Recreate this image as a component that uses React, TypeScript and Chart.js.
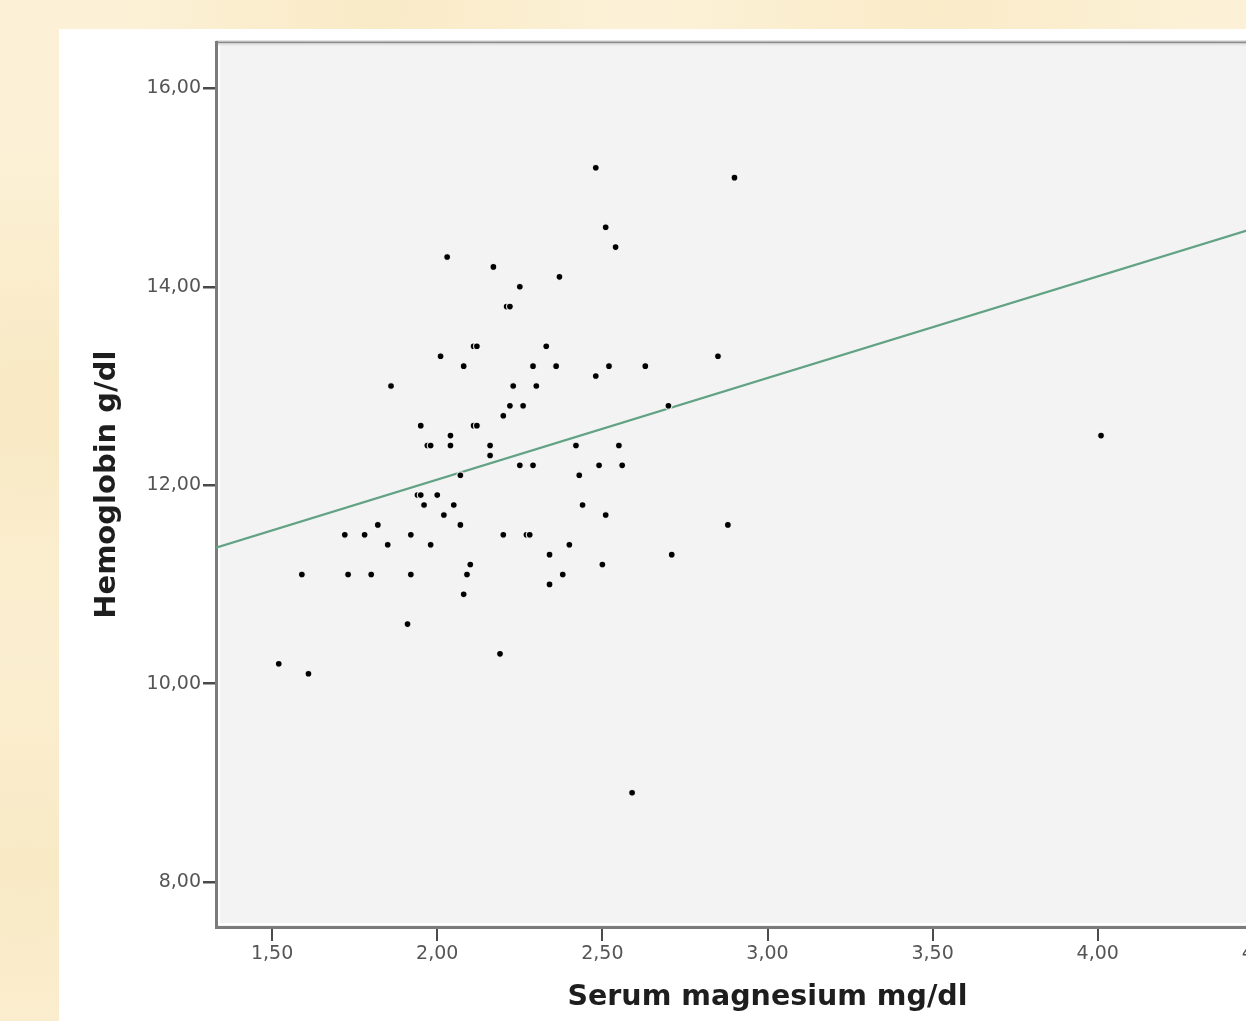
import React, { useEffect, useRef } from "react";
import { Chart, registerables } from "chart.js";

Chart.register(...registerables);

// Serum magnesium (mg/dl) for each patient
const magnesium = [
  2.48, 2.90, 2.51, 2.54, 2.03, 2.17, 2.37, 2.25, 2.21, 2.22,
  2.85, 2.01, 2.11, 2.12, 2.33, 2.08, 2.29, 2.36, 2.52, 2.63,
  2.48, 1.86, 2.23, 2.30, 2.22, 2.26, 2.20, 2.70, 1.95, 2.11,
  2.12, 2.04, 1.97, 1.98, 2.04, 2.16, 2.16, 2.42, 2.55, 2.25,
  2.29, 2.49, 2.56, 2.07, 2.43, 4.01, 1.94, 1.95, 2.00, 1.96,
  2.05, 2.44, 2.02, 2.51, 2.07, 1.82, 2.88, 1.72, 1.78, 1.92,
  2.20, 2.27, 2.28, 1.85, 1.98, 2.40, 2.34, 2.71, 2.10, 2.50,
  1.59, 1.73, 1.80, 1.92, 2.09, 2.38, 2.34, 2.08, 1.91, 2.19,
  1.52, 1.61, 2.59,
];

// Hemoglobin (g/dl) for each patient
const hemoglobin = [
  15.2, 15.1, 14.6, 14.4, 14.3, 14.2, 14.1, 14.0, 13.8, 13.8,
  13.3, 13.3, 13.4, 13.4, 13.4, 13.2, 13.2, 13.2, 13.2, 13.2,
  13.1, 13.0, 13.0, 13.0, 12.8, 12.8, 12.7, 12.8, 12.6, 12.6,
  12.6, 12.5, 12.4, 12.4, 12.4, 12.4, 12.3, 12.4, 12.4, 12.2,
  12.2, 12.2, 12.2, 12.1, 12.1, 12.5, 11.9, 11.9, 11.9, 11.8,
  11.8, 11.8, 11.7, 11.7, 11.6, 11.6, 11.6, 11.5, 11.5, 11.5,
  11.5, 11.5, 11.5, 11.4, 11.4, 11.4, 11.3, 11.3, 11.2, 11.2,
  11.1, 11.1, 11.1, 11.1, 11.1, 11.1, 11.0, 10.9, 10.6, 10.3,
  10.2, 10.1, 8.9,
];

// Linear fit line end points
const fitX = [1.33, 4.67];
const fitY = [11.37, 14.79];

const xTicks = [1.5, 2.0, 2.5, 3.0, 3.5, 4.0, 4.5];
const yTicks = [8, 10, 12, 14, 16];

const xRange = [1.33, 4.67];
const yRange = [7.547, 16.463];

const xTitle = "Serum magnesium mg/dl";
const yTitle = "Hemoglobin g/dl";

const fmt = (v: number) => v.toFixed(2).replace(".", ",");

const framePlugin = {
  id: "spssFrame",
  beforeDraw(chart: any) {
    const { ctx, chartArea } = chart;
    const { left, top, right, bottom } = chartArea;
    ctx.save();
    ctx.fillStyle = "#f3f3f3";
    ctx.fillRect(left, top, right - left, bottom - top);
    ctx.strokeStyle = "#ffffff";
    ctx.lineWidth = 2;
    ctx.beginPath();
    ctx.moveTo(left + 3, top);
    ctx.lineTo(left + 3, bottom - 3);
    ctx.lineTo(right, bottom - 3);
    ctx.stroke();
    ctx.strokeStyle = "#d2d2d2";
    ctx.lineWidth = 1;
    ctx.beginPath();
    ctx.moveTo(left, top - 1.5);
    ctx.lineTo(right, top - 1.5);
    ctx.stroke();
    ctx.strokeStyle = "#8a8a8a";
    ctx.lineWidth = 2;
    ctx.beginPath();
    ctx.moveTo(left, top);
    ctx.lineTo(right, top);
    ctx.stroke();
    ctx.strokeStyle = "#e4e4e4";
    ctx.lineWidth = 2;
    ctx.beginPath();
    ctx.moveTo(left, top + 2);
    ctx.lineTo(right, top + 2);
    ctx.stroke();
    ctx.restore();
  },
  afterDraw(chart: any) {
    const { ctx, chartArea } = chart;
    const { left, top, right, bottom } = chartArea;
    ctx.save();
    ctx.fillStyle = "#1e1e1e";
    ctx.textAlign = "center";
    ctx.textBaseline = "middle";
    ctx.font = 'bold 28.5px "DejaVu Sans"';
    ctx.fillText(xTitle, (left + right) / 2, bottom + 71);
    ctx.font = 'bold 29px "DejaVu Sans"';
    ctx.translate(48, (top + bottom) / 2);
    ctx.rotate(-Math.PI / 2);
    ctx.fillText(yTitle, 0, 0);
    ctx.restore();
  },
};

export default function App() {
  const canvasRef = useRef<HTMLCanvasElement | null>(null);

  useEffect(() => {
    const canvas = canvasRef.current;
    if (!canvas) return;
    const points = magnesium.map((x, i) => ({ x, y: hemoglobin[i] }));
    const fit = fitX.map((x, i) => ({ x, y: fitY[i] }));
    const tickFont = { family: '"DejaVu Sans"', size: 19 };

    const chart = new Chart(canvas, {
      type: "scatter",
      data: {
        datasets: [
          {
            type: "scatter",
            data: points,
            pointRadius: 3.4,
            pointBackgroundColor: "#000000",
            pointBorderColor: "rgba(255,255,255,0.85)",
            pointBorderWidth: 1.2,
            order: 0,
          } as any,
          {
            type: "line",
            data: fit,
            borderColor: "#62a285",
            borderWidth: 2.2,
            pointRadius: 0,
            fill: false,
            order: 1,
          } as any,
        ],
      },
      options: {
        responsive: false,
        animation: false,
        devicePixelRatio: 1,
        layout: { padding: { top: 13, right: 30, left: 0, bottom: 0 } },
        plugins: {
          legend: { display: false },
          tooltip: { enabled: false },
        },
        scales: {
          x: {
            type: "linear",
            min: xRange[0],
            max: xRange[1],
            afterBuildTicks: (s: any) => {
              s.ticks = xTicks.map((v) => ({ value: v }));
            },
            afterFit: (s: any) => {
              s.height = 94;
            },
            grid: {
              drawOnChartArea: false,
              drawTicks: true,
              tickLength: 14,
              color: "#4a4a4a",
              lineWidth: 2,
            },
            border: { display: true, color: "#7b7b7b", width: 3 },
            ticks: {
              font: tickFont,
              color: "#555555",
              padding: 2,
              maxRotation: 0,
              autoSkip: false,
              callback: (v: any) => fmt(Number(v)),
            },
          },
          y: {
            type: "linear",
            min: yRange[0],
            max: yRange[1],
            afterBuildTicks: (s: any) => {
              s.ticks = yTicks.map((v) => ({ value: v }));
            },
            afterFit: (s: any) => {
              s.width = 157;
            },
            grid: {
              drawOnChartArea: false,
              drawTicks: true,
              tickLength: 13,
              color: "#4a4a4a",
              lineWidth: 2.5,
            },
            border: { display: true, color: "#7b7b7b", width: 3 },
            ticks: {
              font: tickFont,
              color: "#555555",
              padding: 2,
              autoSkip: false,
              callback: (v: any) => fmt(Number(v)),
            },
          },
        },
      } as any,
      plugins: [framePlugin],
    });
    return () => chart.destroy();
  }, []);

  return (
    <div
      style={{
        position: "fixed",
        left: 0,
        top: 0,
        width: 1246,
        height: 1021,
        overflow: "hidden",
        backgroundColor: "#fcf1d6",
        backgroundImage:
          "radial-gradient(ellipse at 3% 40%, rgba(244,222,172,0.45), rgba(244,222,172,0) 30%)," +
          "radial-gradient(ellipse at 30% 1%, rgba(246,226,180,0.45), rgba(246,226,180,0) 20%)," +
          "radial-gradient(ellipse at 75% 1%, rgba(246,226,180,0.4), rgba(246,226,180,0) 20%)," +
          "radial-gradient(ellipse at 2% 85%, rgba(244,222,172,0.4), rgba(244,222,172,0) 25%)",
      }}
    >
      <div
        style={{
          position: "absolute",
          left: 59,
          top: 29,
          width: 1300,
          height: 1000,
          background: "#ffffff",
        }}
      >
        <canvas
          ref={canvasRef}
          width={1290}
          height={992}
          style={{ display: "block", width: 1290, height: 992 }}
        />
      </div>
    </div>
  );
}
